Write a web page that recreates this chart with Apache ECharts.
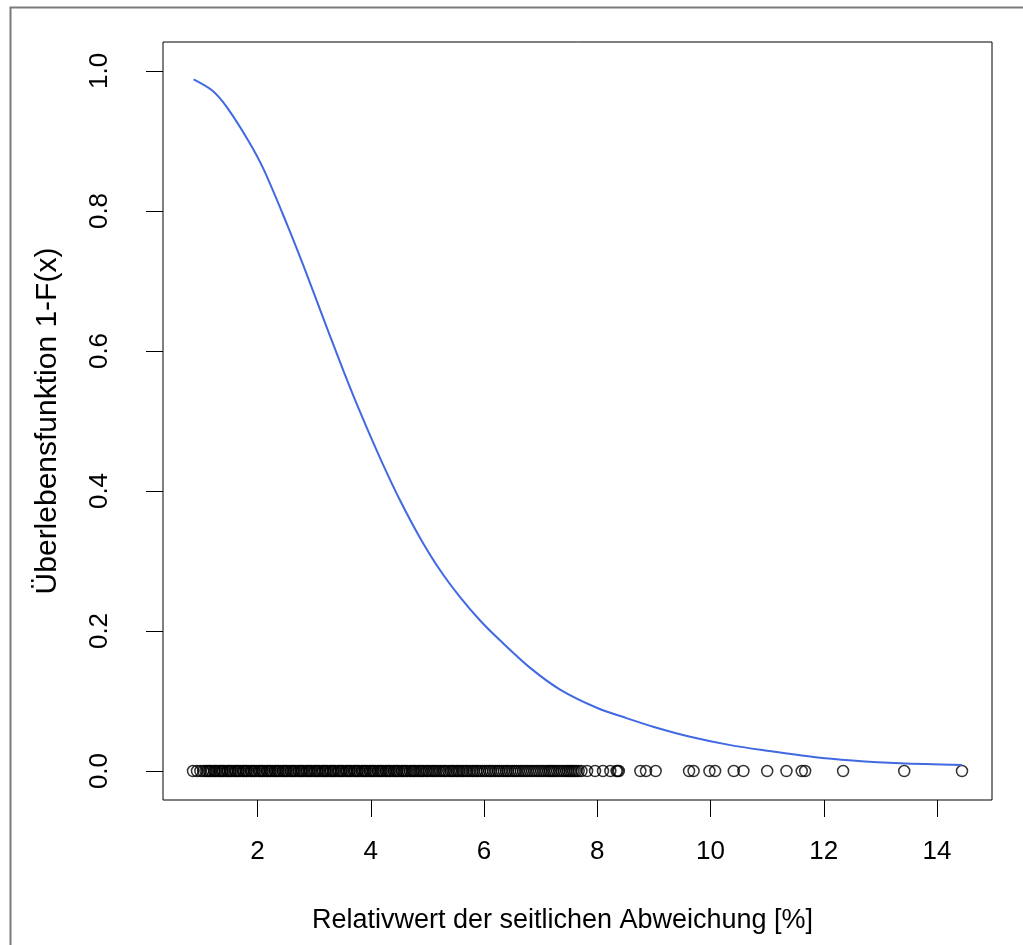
<!DOCTYPE html>
<html>
<head>
<meta charset="utf-8">
<script src="https://cdn.jsdelivr.net/npm/echarts@6/dist/echarts.min.js"></script>
<style>
  html, body { margin: 0; padding: 0; background: #fff; }
  #chart { width: 1023px; height: 945px; }
</style>
</head>
<body>
<div id="chart"></div>
<script>
// Survival curve 1-F(x) of the relative lateral deviation
const curveX = [0.87, 1.20, 1.46, 1.84, 2.11, 2.52, 2.81, 3.23, 3.52, 3.81, 4.17, 4.52, 4.87, 5.23, 5.58,
  5.93, 6.29, 6.82, 7.35, 8.00, 8.50, 9.00, 9.64, 10.35, 11.00, 11.82, 12.50, 13.35, 14.44];
const curveY = [0.988, 0.972, 0.948, 0.900, 0.859, 0.781, 0.722, 0.632, 0.571, 0.513, 0.446, 0.386, 0.333,
  0.286, 0.248, 0.215, 0.186, 0.147, 0.116, 0.090, 0.076, 0.063, 0.049, 0.037, 0.029, 0.020, 0.015, 0.011, 0.0086];

// Observed deviations [%], shown as a rug of circles at height 0
const observations = [
  0.86, 0.93, 0.99, 1.04, 1.08, 1.11, 1.14, 1.16, 1.19, 1.23, 1.25, 1.28, 1.32, 1.34, 1.37, 1.39, 1.42,
  1.46, 1.48, 1.51, 1.53, 1.56, 1.60, 1.62, 1.65, 1.67, 1.70, 1.74, 1.76, 1.79, 1.81, 1.84, 1.88, 1.90,
  1.93, 1.95, 1.98,
  2.02, 2.04, 2.07, 2.09, 2.12, 2.16, 2.18, 2.21, 2.23, 2.26, 2.30, 2.32, 2.35, 2.37, 2.40, 2.44, 2.46,
  2.49, 2.51, 2.54, 2.58, 2.60, 2.63, 2.65, 2.68, 2.72, 2.74, 2.77, 2.79, 2.82, 2.86, 2.88, 2.91, 2.93, 2.96,
  3.00, 3.02, 3.05, 3.07, 3.10, 3.14, 3.16, 3.19, 3.21, 3.24, 3.28, 3.30, 3.33, 3.35, 3.38, 3.42, 3.44,
  3.47, 3.49, 3.52, 3.56, 3.58, 3.61, 3.63, 3.66, 3.70, 3.72, 3.75, 3.77, 3.80, 3.84, 3.86, 3.89, 3.91,
  3.94, 3.98,
  4.00, 4.03, 4.05, 4.08, 4.12, 4.14, 4.17, 4.19, 4.22, 4.26, 4.28, 4.31, 4.33, 4.36, 4.40, 4.42, 4.45,
  4.47, 4.50, 4.54, 4.56, 4.59, 4.62, 4.65, 4.69, 4.72, 4.75, 4.77, 4.80, 4.84, 4.87, 4.90, 4.93, 4.97,
  5.00, 5.03, 5.07, 5.10, 5.13, 5.16, 5.20, 5.23, 5.27, 5.30, 5.33, 5.37, 5.41, 5.44, 5.47, 5.51, 5.54,
  5.57, 5.61, 5.64, 5.68, 5.71, 5.75, 5.79, 5.82, 5.86, 5.89, 5.93, 5.97,
  6.01, 6.05, 6.09, 6.12, 6.16, 6.20, 6.24, 6.27, 6.31, 6.35, 6.39, 6.42, 6.46, 6.50, 6.54, 6.57, 6.61,
  6.65, 6.69, 6.73, 6.77, 6.81, 6.85, 6.89, 6.93, 6.97,
  7.01, 7.05, 7.09, 7.13, 7.16, 7.19, 7.22, 7.25, 7.29, 7.33, 7.37, 7.41, 7.45, 7.48, 7.51, 7.54, 7.57,
  7.60, 7.63, 7.67, 7.72,
  7.82, 7.96, 8.10, 8.23, 8.34, 8.36, 8.38, 8.76, 8.86, 9.03, 9.62, 9.70, 9.98, 10.08, 10.41, 10.58,
  11.00, 11.34, 11.61, 11.67, 12.34, 13.42, 14.44
];

const xTicks = [2, 4, 6, 8, 10, 12, 14];
const yTicks = [0, 0.2, 0.4, 0.6, 0.8, 1.0];

const xTitle = 'Relativwert der seitlichen Abweichung [%]';
const yTitle = 'Überlebensfunktion 1-F(x)';

const FONT = 'Liberation Sans, Arial, sans-serif';
const FS = 26;

const chart = echarts.init(document.getElementById('chart'), null, { renderer: 'canvas' });

chart.setOption({
  animation: false,
  backgroundColor: '#ffffff',
  graphic: [{
    type: 'rect',
    shape: { x: 10.5, y: 7.5, width: 1200, height: 1200 },
    style: { fill: 'none', stroke: '#7a7a7a', lineWidth: 2 },
    silent: true
  }],
  grid: {
    left: 163, top: 42, width: 829, height: 758,
    show: true, borderColor: '#000', borderWidth: 1, backgroundColor: 'transparent'
  },
  xAxis: {
    type: 'value', min: 0.33, max: 14.97,
    axisLine: { show: false, onZero: false },
    splitLine: { show: false },
    axisTick: { show: true, inside: false, customValues: xTicks, length: 17, lineStyle: { color: '#000', width: 1 } },
    axisLabel: { customValues: xTicks, color: '#000', fontSize: FS, fontFamily: FONT, margin: 39 },
    name: xTitle, nameLocation: 'middle', nameGap: 107,
    nameTextStyle: { color: '#000', fontSize: 27, fontFamily: FONT, padding: [0, 30, 0, 0] }
  },
  yAxis: {
    type: 'value', min: -0.0414, max: 1.0414,
    axisLine: { show: false, onZero: false },
    splitLine: { show: false },
    axisTick: { show: true, inside: false, customValues: yTicks, length: 17, lineStyle: { color: '#000', width: 1 } },
    axisLabel: {
      customValues: yTicks, color: '#000', fontSize: FS, fontFamily: FONT, rotate: 90, margin: 50,
      formatter: v => v.toFixed(1)
    },
    name: yTitle, nameLocation: 'middle', nameGap: 100, nameRotate: 90,
    nameTextStyle: { color: '#000', fontSize: 30, fontFamily: FONT }
  },
  series: [
    {
      type: 'scatter',
      data: observations.map(v => [v, 0]),
      symbol: 'circle', symbolSize: 11,
      itemStyle: { color: 'rgba(0,0,0,0)', borderColor: '#000', borderWidth: 1.5 },
      silent: true
    },
    {
      type: 'line',
      data: curveX.map((x, i) => [x, curveY[i]]),
      smooth: 0.3,
      showSymbol: false,
      lineStyle: { color: '#4169e1', width: 2 },
      silent: true
    }
  ]
});
</script>
</body>
</html>
